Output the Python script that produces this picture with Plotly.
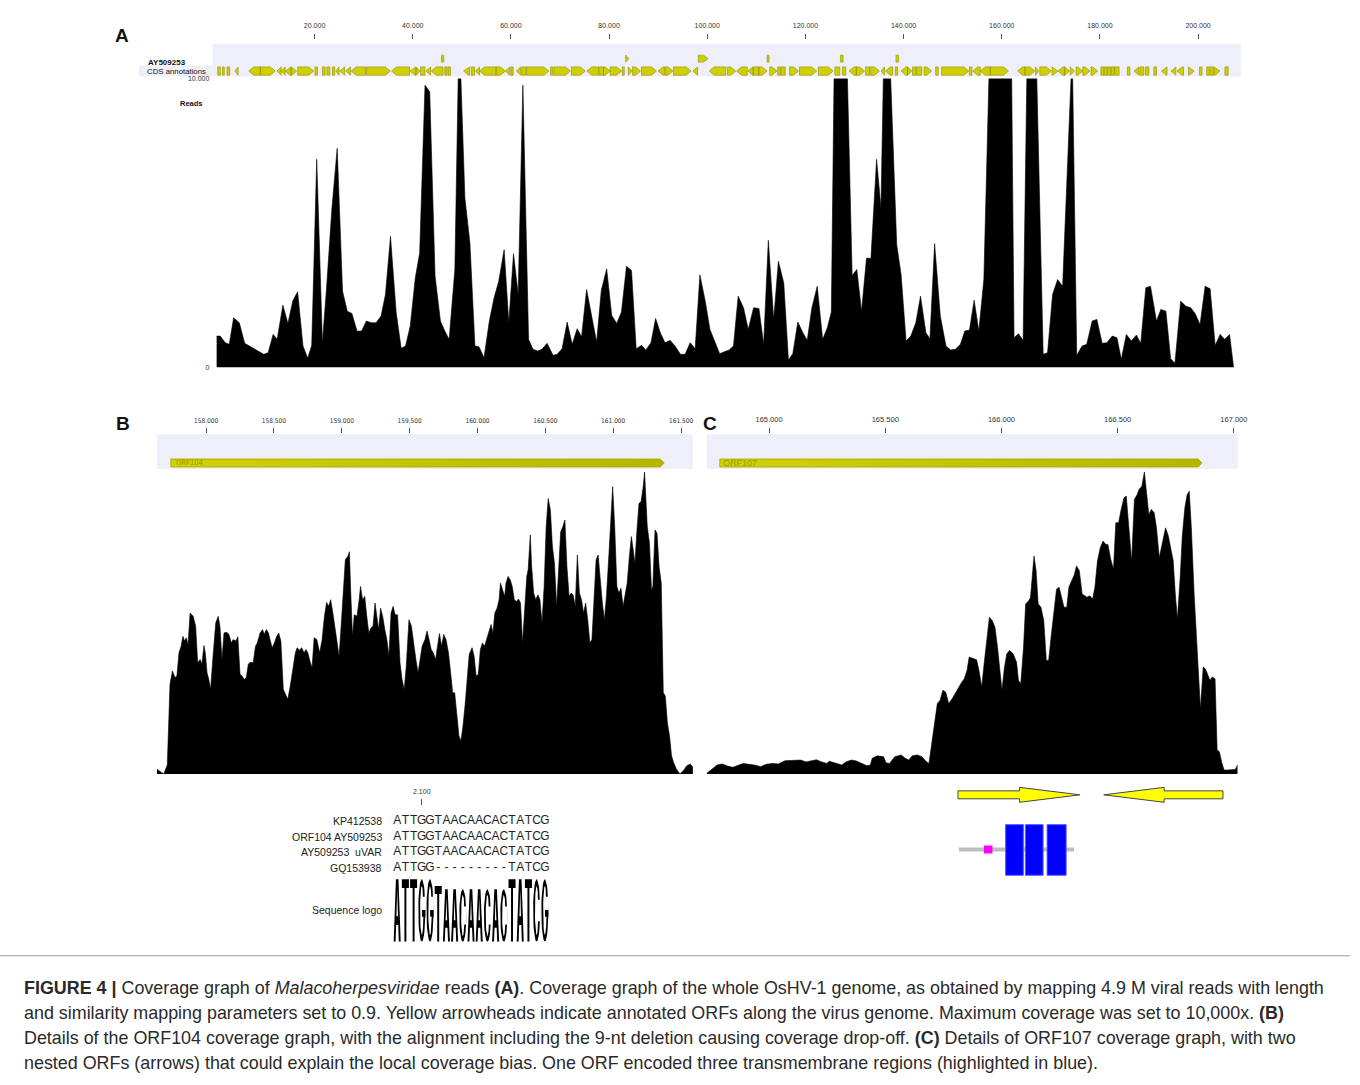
import numpy as np
import plotly.graph_objects as go

OFF = 0
W, H = 1360, 1077
FONT = "Arial, Liberation Sans, sans-serif"
NARROW = "Liberation Sans Narrow, Arial Narrow, DejaVu Sans Condensed, sans-serif"

# ---------------- Panel A: whole-genome coverage (kb, reads) ----------------
genome_kb = [
    0, 0.77, 1.80, 2.62, 3.51, 4.67, 5.76, 6.92, 8.29, 9.65,
    10.54, 11.56, 12.38, 13.54, 14.57, 15.59, 16.55, 17.64, 18.60, 19.42,
    20.44, 21.60, 22.42, 23.51, 24.61, 25.70, 26.66, 27.61, 28.64, 29.59,
    30.55, 31.57, 32.53, 33.55, 34.44, 35.47, 36.63, 37.65, 38.54, 39.49,
    40.52, 41.41, 42.50, 43.46, 44.55, 45.64, 46.53, 47.42, 48.58, 49.26,
    49.81, 50.63, 51.65, 52.67, 53.49, 54.52, 55.61, 56.57, 57.52, 58.62,
    59.57, 60.53, 61.48, 62.44, 63.60, 64.49, 65.44, 66.33, 67.36, 68.59,
    69.41, 70.43, 71.46, 72.48, 73.50, 74.39, 75.42, 77.46, 78.42, 79.51,
    80.54, 81.56, 82.52, 83.54, 84.57, 85.52, 86.62, 87.50, 88.53, 89.48,
    90.44, 91.39, 92.42, 93.44, 94.54, 95.49, 96.52, 97.54, 98.50, 99.59,
    100.55, 101.50, 102.53, 103.89,
    104.45, 105.34, 106.30, 107.39, 108.35, 109.44, 110.53, 111.49, 112.44,
    113.54, 114.49, 115.59, 116.54, 117.43, 118.45, 119.48, 120.37, 121.32, 122.41,
    123.51, 124.46, 125.28, 125.83, 128.56, 129.52, 130.47, 131.43, 132.45, 133.34,
    134.50, 135.39, 135.87, 137.37, 138.60, 139.49, 140.51, 141.47, 142.49, 143.45,
    144.54, 145.36, 146.32, 147.48, 148.64, 149.59, 150.55, 151.58, 152.46, 153.42,
    154.37, 155.33, 156.35, 157.38, 162.02, 162.50, 163.39, 164.35, 165.10, 167.14,
    168.44, 169.33, 170.35, 171.38, 172.40, 174.11, 174.45, 175.27, 176.36, 177.32,
    178.41, 179.37, 180.46, 181.42, 182.51, 183.47, 184.35, 185.38, 186.40, 187.43,
    188.32, 189.34, 190.30, 191.52, 192.41, 193.44, 194.40, 195.28, 196.44, 197.53,
    198.49, 199.38, 200.40, 201.43, 202.45, 203.47, 204.50, 205.39, 206.41, 207.23,
]
genome_reads = [
    1090, 1090, 862, 805, 1724, 1552, 839, 724, 575, 460,
    517, 1149, 977, 2161, 1529, 2322, 2621, 747, 322, 770,
    7207, 862, 2701, 5460, 7586, 2644, 1954, 1874, 1264, 1264,
    1609, 1552, 1552, 1782, 2529, 4540, 1897, 667, 747, 1437,
    3103, 3965, 9770, 9540, 3161, 1609, 1264, 977, 3391, 10000,
    10000, 5862, 4310, 747, 724, 345, 1609, 2414, 2988, 4080,
    1552, 3942, 2529, 9770, 977, 632, 575, 632, 839, 425,
    460, 655, 1575, 805, 1345, 1069, 2701, 885, 2678, 3414,
    1805, 1529, 1920, 3506, 3356, 655, 770, 609, 862, 1701,
    1207, 862, 943, 747, 460, 460, 862, 655, 3207, 2299,
    1322, 885, 483, 575,
    609, 747, 2471, 2069, 1322, 2069, 2046, 805, 4402,
    1667, 3678, 2931, 264, 483, 1575, 1207, 943, 2069, 2816,
    977, 1379, 1920, 10000, 10000, 3184, 3391, 1954, 3793, 3770,
    7207, 5517, 10000, 10000, 4253, 3218, 920, 1092, 1552, 2471,
    1207, 1000, 4287, 1782, 747, 609, 632, 805, 1264, 1299,
    2333, 1264, 3046, 10000, 10000, 1034, 1172, 943, 10000, 10000,
    460, 517, 2529, 3046, 2816, 10000, 10000, 425, 747, 805,
    1609, 1667, 839, 862, 1092, 1034, 287, 1149, 920, 1126,
    839, 2759, 2816, 1609, 2011, 1954, 310, 149, 2299, 2126,
    2069, 1874, 1494, 2816, 2724, 770, 1149, 977, 1149, 0,
]
genome_ticks = [20000, 40000, 60000, 80000, 100000, 120000, 140000, 160000, 180000, 200000]
reads_ticks = [0, 10000]

# CDS annotations (kb); '>' forward, '<' reverse, 'b' short box
cds_start = [
    0.27, 1.21, 2.15, 3.77, 6.60, 8.95, 12.32, 13.20, 14.00, 15.22,
    16.56, 20.07, 21.61, 22.49, 23.63, 24.31, 25.12, 26.33, 27.47, 30.57,
    35.69, 39.46, 40.67, 41.61, 42.69, 43.77, 46.53, 47.20, 50.37, 51.92,
    52.79, 53.60, 56.97,
    58.86, 60.00, 61.14, 62.22, 63.17, 68.08, 68.75, 72.32, 75.49, 77.98,
    78.86, 80.20, 82.69, 83.91, 84.78, 86.60, 89.97, 91.45, 93.13, 97.04,
    100.40, 104.11, 105.99, 108.28, 109.36, 110.50, 112.73, 114.34, 115.02, 116.77,
    118.79, 122.63, 125.99, 127.54, 128.89, 130.37, 132.26, 133.20, 135.42, 136.30,
    138.32, 139.46, 140.81, 141.82, 142.63, 144.18, 146.53, 147.75, 153.40, 154.08,
    155.62, 157.65, 163.24, 164.72, 166.87, 167.75, 170.24, 171.45, 172.80, 173.94,
    175.15, 176.50, 178.18, 180.20, 180.90, 181.60, 182.30, 183.00, 185.59, 186.94,
    188.15, 189.30, 190.98, 192.53, 194.48, 195.69, 198.05, 200.27, 201.75, 202.43,
    203.23, 205.46,
]
cds_end = [
    0.81, 1.61, 2.69, 4.44, 8.95, 11.98, 13.20, 14.00, 15.22, 16.36,
    19.80, 20.60, 22.15, 23.10, 24.11, 24.98, 26.13, 27.34, 30.37, 35.42,
    39.33, 40.67, 41.48, 42.49, 43.63, 46.19, 47.00, 47.68, 51.58, 52.59,
    53.60, 56.97, 58.86,
    59.80, 60.47, 62.02, 63.03, 67.74, 68.55, 72.12, 75.15, 77.85, 78.86,
    80.20, 82.56, 83.10, 84.71, 86.40, 89.63, 91.31, 93.00, 96.70, 98.05,
    103.77, 105.79, 108.15, 109.36, 110.50, 112.19, 114.21, 114.88, 115.89, 118.59,
    122.29, 125.66, 127.00, 128.22, 130.37, 132.05, 133.06, 135.09, 136.10, 137.78,
    138.79, 140.81, 141.69, 142.49, 143.71, 145.73, 147.07, 153.27, 153.94, 155.62,
    157.65, 161.35, 164.72, 166.74, 167.54, 170.10, 171.45, 172.80, 173.81, 174.82,
    176.50, 177.98, 179.53, 180.80, 181.50, 182.20, 182.90, 183.90, 186.13, 187.95,
    188.96, 189.97, 191.52, 193.67, 195.49, 197.04, 199.19, 200.81, 202.29, 203.10,
    204.45, 206.13,
]
cds_dir = [
    "b", "b", "b", "<", "<", ">", "<", "<", "<", ">",
    ">", "b", "b", "b", "b", "<", "<", "<", "<", ">",
    "<", "<", ">", "b", "<", "<", "b", "b", "<", "b",
    "<", "<", ">",
    "<", "b", "<", "b", ">", "b", ">", ">", "<", "b",
    ">", ">", "b", ">", ">", ">", "<", ">", ">", "<",
    "<", ">", "<", "<", "b", ">", ">", "b", "b", ">",
    ">", ">", "b", "b", "<", ">", "b", ">", "<", "<",
    "b", "<", ">", "b", "b", ">", "b", ">", "b", "<",
    "<", ">", "<", ">", ">", ">", ">", "<", ">", ">",
    ">", ">", ">", "b", "b", "b", "b", "b", "b", "<",
    "b", "b", "b", "<", "<", "<", ">", "b", "b", "b",
    ">", "b",
]
cds_upper_start = [45.86, 83.37, 98.18, 112.19, 127.14, 138.45]
cds_upper_end = [46.33, 84.04, 100.20, 112.59, 127.68, 138.99]
cds_upper_dir = ["b", ">", ">", "b", "b", "b"]

# ---------------- Panel B: ORF104 coverage (bp, % of local max) ----------------
orf104_pos = [
    157637, 157688, 157714, 157734, 157752, 157770, 157785, 157800, 157816, 157829,
    157841, 157854, 157867, 157882, 157905, 157923, 157938, 157956, 157969, 157984,
    157994, 158007, 158020, 158033, 158051, 158071, 158089, 158102, 158117, 158132,
    158153, 158168, 158186, 158199, 158219, 158234, 158250, 158265, 158280, 158296,
    158311, 158326, 158347, 158364, 158377, 158398, 158416, 158428, 158444, 158459,
    158474, 158487, 158505, 158520, 158535, 158551, 158569, 158587, 158602, 158620,
    158638, 158658, 158671, 158689, 158704, 158722, 158735, 158750, 158765, 158781,
    158796, 158816, 158837, 158855, 158872, 158888, 158903, 158918, 158934, 158949,
    158964, 158980, 158995, 159010, 159026, 159046, 159056, 159066, 159079, 159092,
    159112, 159128, 159138, 159153, 159169, 159184, 159199, 159215, 159230, 159245,
    159258, 159271, 159286, 159301, 159317, 159332, 159347, 159363, 159378, 159393,
    159411, 159429, 159444, 159460, 159475, 159495, 159513, 159531, 159546, 159562,
    159577, 159592, 159613, 159628, 159643, 159659, 159674, 159692, 159705, 159720,
    159735, 159751, 159768, 159786, 159802, 159817, 159832, 159848, 159863, 159878,
    159893, 159909, 159924, 159939, 159960, 159975, 159990, 160006, 160021, 160036,
    160052, 160067, 160082, 160100, 160113, 160128, 160144, 160159, 160169, 160184,
    160200, 160210, 160225, 160241, 160256, 160271, 160287, 160302, 160317, 160332,
    160348, 160363, 160373, 160389, 160399, 160414, 160429, 160445, 160460, 160475,
    160491, 160506, 160521, 160537, 160552, 160567, 160583, 160598, 160613, 160629,
    160644, 160659, 160675, 160690, 160705, 160720, 160736, 160751, 160766, 160782,
    160797, 160812, 160828, 160843, 160858, 160874, 160889, 160904, 160920, 160935,
    160950, 160966, 160981, 160996, 161011, 161027, 161042, 161057, 161073, 161088,
    161103, 161119, 161134, 161144, 161160, 161175, 161190, 161205, 161221, 161231,
    161241, 161251, 161267, 161282, 161292, 161308, 161323, 161338, 161354, 161369,
    161384, 161399, 161415, 161430, 161445, 161466, 161491, 161517, 161542, 161568,
    161588,
]
orf104_cov = [
    1.6, 0, 3, 29.7, 34.1, 31.9, 32.4, 40.1, 42.3, 45.6,
    44.0, 45.1, 42.9, 53.3, 52.2, 48.9, 36.8, 37.9, 36.3, 42.5,
    40.1, 33.5, 31.3, 28.0, 39.0, 50.0, 52.2, 48.9, 37.9, 46.7,
    46.9, 46.2, 43.4, 44.5, 44.0, 45.4, 33.0, 32.4, 31.3, 31.9,
    36.3, 37.0, 36.8, 42.3, 43.4, 46.7, 47.8, 46.2, 47.8, 46.7,
    44.0, 41.8, 43.6, 45.6, 46.7, 44.0, 28.0, 26.4, 24.7, 29.1,
    34.1, 40.1, 41.8, 41.0, 41.8, 40.1, 41.2, 40.1, 37.4, 35.2,
    45.1, 44.5, 40.1, 44.5, 52.2, 56.8, 55.5, 57.7, 53.3, 48.9,
    43.4, 39.0, 48.9, 59.9, 70.9, 72.2, 73.6, 59.9, 45.6, 52.7,
    52.2, 57.7, 62.1, 57.7, 58.8, 52.2, 46.7, 48.4, 48.9, 56.6,
    52.2, 47.8, 54.9, 52.2, 47.8, 44.5, 39.0, 53.3, 55.5, 52.7,
    52.7, 36.8, 31.3, 28.0, 35.7, 51.1, 48.9, 41.8, 37.9, 33.5,
    37.9, 42.3, 44.5, 47.3, 44.5, 41.2, 40.1, 37.9, 42.3, 46.5,
    42.3, 46.2, 44.5, 40.1, 33.5, 26.9, 26.9, 19.2, 12.6, 11.0,
    15.9, 23.1, 31.3, 39.6, 41.8, 39.0, 32.4, 33.0, 41.2, 43.4,
    42.3, 44.5, 46.7, 49.5, 46.7, 53.3, 54.9, 57.7, 63.2, 61.0,
    58.8, 63.2, 65.4, 64.3, 62.1, 57.7, 57.1, 57.9, 56.6, 43.4,
    55.5, 65.4, 67.6, 79.1, 68.7, 59.9, 57.7, 59.3, 57.7, 50.0,
    62.1, 81.9, 91.2, 87.4, 75.3, 69.8, 55.5, 68.7, 80.2, 81.9,
    84.1, 68.7, 58.8, 59.9, 59.3, 55.5, 72.5, 59.9, 57.7, 53.3,
    56.6, 51.1, 43.4, 44.5, 57.7, 70.9, 72.5, 63.2, 56.6, 51.1,
    58.8, 70.9, 81.9, 95.1, 81.9, 62.1, 59.9, 61.5, 55.5, 59.9,
    63.2, 72.0, 78.6, 75.3, 69.8, 80.8, 89.6, 90.1, 95.1, 100,
    90.7, 81.9, 76.4, 61.0, 62.1, 80.8, 79.7, 68.7, 63.2, 26.9,
    25.8, 17.0, 12.6, 6.0, 3.8, 1.6, 0, 1.1, 2.7, 3.3,
    2.2,
]
orf104_ticks = [158000, 158500, 159000, 159500, 160000, 160500, 161000, 161500]
orf104_span = [157740, 161376]

# ---------------- Panel C: ORF107 coverage (bp, % of local max) ----------------
orf107_pos = [
    164732, 164754, 164777, 164799, 164822, 164844, 164867, 164889, 164912, 164942,
    164964, 164987, 165017, 165039, 165069, 165099, 165136, 165159, 165181, 165204,
    165226, 165249, 165259, 165286, 165313, 165331, 165354, 165376, 165399, 165421,
    165436, 165444, 165466, 165493, 165503, 165518, 165541, 165568, 165586, 165601,
    165616, 165638, 165658, 165676, 165688, 165698, 165709, 165724, 165736, 165748,
    165760, 165773, 165788, 165803, 165818, 165829, 165840, 165852, 165861, 165873,
    165893, 165903, 165915, 165927, 165939, 165948, 165960, 165972, 165983, 165993,
    166002, 166013, 166023, 166035, 166050, 166065, 166073, 166083, 166095, 166104,
    166118, 166125, 166134, 166140, 166149, 166158, 166170, 166182, 166193, 166203,
    166215, 166227, 166237, 166248, 166260, 166269, 166281, 166290, 166302, 166312,
    166323, 166335, 166347, 166357, 166368, 166380, 166392, 166402, 166413, 166425,
    166437, 166449, 166458, 166470, 166482, 166492, 166504, 166515, 166527, 166537,
    166548, 166560, 166572, 166584, 166592, 166604, 166615, 166624, 166634, 166645,
    166657, 166667, 166679, 166694, 166706, 166718, 166727, 166739, 166748, 166757,
    166769, 166778, 166789, 166799, 166808, 166817, 166829, 166844, 166856, 166868,
    166877, 166886, 166897, 166907, 166919, 166928, 166937, 166949, 166958, 166971,
    166994, 167006, 167016,
]
orf107_cov = [
    0.2, 1.5, 3.0, 3.3, 2.6, 2.2, 3.0, 3.5, 3.2, 2.9,
    2.4, 3.2, 3.5, 3.3, 4.4, 4.6, 4.6, 4.0, 4.3, 4.7,
    4.0, 3.5, 4.2, 3.6, 3.0, 4.0, 4.6, 4.3, 3.5, 2.7,
    3.0, 5.2, 6.0, 5.7, 3.7, 3.5, 5.7, 6.3, 5.2, 4.6,
    6.0, 6.3, 5.7, 4.1, 3.5, 9.0, 15.6, 23.3, 24.4, 27.7,
    27.1, 23.3, 24.9, 27.1, 28.8, 30.4, 31.5, 34.3, 38.7, 38.4,
    37.8, 34.3, 28.8, 37.6, 46.4, 51.9, 50.8, 48.6, 42.0, 34.3,
    27.7, 35.4, 39.8, 40.9, 39.8, 37.0, 31.0, 29.9, 42.0, 56.3,
    57.4, 58.5, 67.3, 72.2, 67.3, 56.3, 55.2, 50.8, 37.6, 37.6,
    46.4, 54.1, 61.2, 61.8, 57.4, 55.2, 55.2, 61.8, 64.0, 65.6,
    68.9, 67.3, 59.6, 59.0, 58.5, 59.0, 57.9, 61.8, 70.5, 74.9,
    77.1, 76.0, 76.0, 71.1, 67.8, 83.2, 83.2, 87.6, 91.4, 92.0,
    81.5, 70.5, 90.9, 92.5, 94.2, 95.3, 100, 92.5, 85.9, 87.6,
    86.5, 81.5, 71.6, 77.1, 81.5, 78.8, 74.9, 70.5, 59.6, 51.3,
    65.1, 78.8, 88.1, 92.5, 93.6, 81.5, 59.6, 37.6, 21.6, 35.4,
    34.8, 33.2, 31.0, 32.1, 31.5, 7.9, 7.4, 3.5, 1.3, 1.3,
    1.3, 1.5, 3.0,
]
orf107_ticks = [165000, 165500, 166000, 166500, 167000]
orf107_span = [164788, 166863]
nested_orf_from = [165813, 166953]
nested_orf_to = [166338, 166440]

# protein (aa) with signal region and three transmembrane helices
protein_len = 175
signal_region = [38, 51]
tm_start = [71, 101, 134]
tm_end = [98, 128, 163]

# ---------------- Alignment around position 2.100 ----------------
aln_first_pos = 2097
aln_tick = [2100]
aln_names = ["KP412538", "ORF104 AY509253", "AY509253  uVAR", "GQ153938"]
aln_seqs = ["ATTGGTAACAACACTATCG", "ATTGGTAACAACACTATCG",
            "ATTGGTAACAACACTATCG", "ATTGG---------TATCG"]
logo_letters = "ATTGGTAACAACACTATCG"
logo_bits = [2.0, 2.0, 2.0, 2.0, 2.0, 1.78, 1.68, 1.68, 1.68, 1.68,
             1.68, 1.68, 1.68, 1.68, 2.0, 2.0, 2.0, 2.0, 2.0]

caption_lines = [
    "<b>FIGURE 4 |</b> Coverage graph of <i>Malacoherpesviridae</i> reads <b>(A)</b>. Coverage graph of the whole OsHV-1 genome, as obtained by mapping 4.9 M viral reads with length",
    "and similarity mapping parameters set to 0.9. Yellow arrowheads indicate annotated ORFs along the virus genome. Maximum coverage was set to 10,000x. <b>(B)</b>",
    "Details of the ORF104 coverage graph, with the alignment including the 9-nt deletion causing coverage drop-off. <b>(C)</b> Details of ORF107 coverage graph, with two",
    "nested ORFs (arrows) that could explain the local coverage bias. One ORF encoded three transmembrane regions (highlighted in blue).",
]


# ---------------- helpers (page pixel -> paper fraction) ----------------
def fx(x):
    return (x - OFF) / W


def fy(y):
    return 1 - (y - OFF) / H


def dom_x(a, b):
    return [fx(a), fx(b)]


def dom_y(top, bottom):
    return [fy(bottom), fy(top)]


def feature_polys(starts, ends, dirs, yc, hh, head):
    xs, ys = [], []
    for s, e, d in zip(starts, ends, dirs):
        h = min(head, e - s)
        if d == ">":
            px = [s, e - h, e, e - h, s, s]
            py = [yc - hh, yc - hh, yc, yc + hh, yc + hh, yc - hh]
        elif d == "<":
            px = [e, s + h, s, s + h, e, e]
            py = [yc - hh, yc - hh, yc, yc + hh, yc + hh, yc - hh]
        else:
            px = [s, e, e, s, s]
            py = [yc - hh, yc - hh, yc + hh, yc + hh, yc - hh]
        xs += px + [None]
        ys += py + [None]
    return xs, ys


def arrow_poly(a, b, yc, shaft, headh, headlen):
    sgn = 1 if b > a else -1
    hb = b - sgn * headlen
    px = [a, hb, hb, b, hb, hb, a, a]
    py = [yc - shaft, yc - shaft, yc - headh, yc, yc + headh, yc + shaft, yc + shaft, yc - shaft]
    return px, py


def ellipse(cx, cy, rx, ry, n=36):
    t = np.linspace(0, 2 * np.pi, n)
    return list(zip(cx + rx * np.cos(t), cy + ry * np.sin(t)))


def rect(u0, v0, u1, v1):
    return [(u0, v0), (u1, v0), (u1, v1), (u0, v1), (u0, v0)]


GLYPHS = {
    "T": ([[(0, 1), (1, 1), (1, 0.86), (0.64, 0.86), (0.64, 0), (0.36, 0), (0.36, 0.86), (0, 0.86), (0, 1)]], [], []),
    "A": ([[(0, 0), (0.32, 1), (0.68, 1), (1, 0), (0.73, 0), (0.65, 0.27), (0.35, 0.27), (0.27, 0), (0, 0)]],
          [[(0.39, 0.41), (0.5, 0.84), (0.61, 0.41), (0.39, 0.41)]], []),
    "C": ([ellipse(0.5, 0.5, 0.5, 0.5)], [ellipse(0.5, 0.5, 0.24, 0.39), rect(0.55, 0.33, 1.03, 0.67)], []),
    "G": ([ellipse(0.5, 0.5, 0.5, 0.5)], [ellipse(0.5, 0.5, 0.24, 0.39), rect(0.55, 0.50, 1.03, 0.72)],
          [rect(0.52, 0.40, 1.0, 0.51)]),
}

traces = []

# ---- Panel A coverage
traces.append(go.Scatter(x=np.array(genome_kb) * 1000, y=genome_reads, mode="lines",
                         fill="tozeroy", fillcolor="black", line=dict(color="black", width=0.6),
                         xaxis="x", yaxis="y", hoverinfo="skip"))
# ---- Panel A CDS track
lx, ly = feature_polys(np.array(cds_start) * 1000, np.array(cds_end) * 1000, cds_dir, 5.5, 4.2, 1000)
ux, uy = feature_polys(np.array(cds_upper_start) * 1000, np.array(cds_upper_end) * 1000, cds_upper_dir, 18, 3.5, 1000)
for gx, gy in ((lx, ly), (ux, uy)):
    traces.append(go.Scatter(x=gx, y=gy, mode="lines", fill="toself", fillcolor="#cfcf00",
                             line=dict(color="#8e8e00", width=0.6), xaxis="x2", yaxis="y2",
                             hoverinfo="skip"))

# ---- Panel B / C coverage
traces.append(go.Scatter(x=orf104_pos, y=orf104_cov, mode="lines", fill="tozeroy", fillcolor="black",
                         line=dict(color="black", width=0.6), xaxis="x3", yaxis="y3", hoverinfo="skip"))
traces.append(go.Scatter(x=orf107_pos, y=orf107_cov, mode="lines", fill="tozeroy", fillcolor="black",
                         line=dict(color="black", width=0.6), xaxis="x5", yaxis="y5", hoverinfo="skip"))

# ---- ORF bars
for span, xa, ya, head in ((orf104_span, "x4", "y4", 30), (orf107_span, "x6", "y6", 17)):
    bx, by = feature_polys([span[0]], [span[1]], [">"], 6, 4, head)
    traces.append(go.Scatter(x=bx, y=by, mode="lines", fill="toself",
                             fillgradient=dict(type="horizontal",
                                               colorscale=[[0, "#d2d200"], [1, "#b6b600"]]),
                             line=dict(color="#a3a300", width=0.8), xaxis=xa, yaxis=ya,
                             hoverinfo="skip"))

# ---- nested ORF arrows (panel C)
ax_, ay_ = [], []
for a, b in zip(nested_orf_from, nested_orf_to):
    px, py = arrow_poly(a, b, 16, 4, 7.5, 260)
    ax_ += px + [None]
    ay_ += py + [None]
traces.append(go.Scatter(x=ax_, y=ay_, mode="lines", fill="toself", fillcolor="#ffff00",
                         line=dict(color="#444444", width=1), xaxis="x5", yaxis="y9",
                         hoverinfo="skip"))

# ---- alignment text
tx, ty, tt = [], [], []
for r, seq in enumerate(aln_seqs, start=1):
    for i, ch in enumerate(seq):
        tx.append(aln_first_pos + i)
        ty.append(r)
        tt.append(ch)
traces.append(go.Scatter(x=tx, y=ty, text=tt, mode="text",
                         textfont=dict(family=FONT, size=12, color="#222222"),
                         xaxis="x7", yaxis="y7", hoverinfo="skip"))

# ---- sequence logo glyphs
layers = [([], []), ([], []), ([], [])]
gw = 0.86
for i, (ch, bits) in enumerate(zip(logo_letters, logo_bits)):
    x0 = aln_first_pos + i - gw / 2
    for li, polys in enumerate(GLYPHS[ch]):
        for poly in polys:
            for (u, v) in poly:
                layers[li][0].append(x0 + u * gw)
                layers[li][1].append(v * bits)
            layers[li][0].append(None)
            layers[li][1].append(None)
for li, col in enumerate(["black", "white", "black"]):
    if layers[li][0]:
        traces.append(go.Scatter(x=layers[li][0], y=layers[li][1], mode="lines", fill="toself",
                                 fillcolor=col, line=dict(color=col, width=0),
                                 xaxis="x7", yaxis="y8", hoverinfo="skip"))

fig = go.Figure(traces)

hidden = dict(visible=False, showgrid=False, zeroline=False, fixedrange=True)
tickfont_small = dict(family=FONT, size=7, color="#333333")


def top_axis(a, b, rng, ypos, vals, font, ticklen=5, standoff=3):
    return dict(domain=dom_x(a, b), range=rng, anchor="free", position=fy(ypos), side="top",
                showgrid=False, zeroline=False, showline=False, ticks="outside", ticklen=ticklen,
                tickwidth=1, tickcolor="#555555", tickvals=vals, tickformat=",d", tickfont=font,
                ticklabelstandoff=standoff, fixedrange=True)


fig.update_layout(
    width=W, height=H, margin=dict(l=0, r=0, t=0, b=0),
    paper_bgcolor="white", plot_bgcolor="white", showlegend=False, separators=",.",
    xaxis=dict(domain=dom_x(218, 1250), range=[0, 208700], anchor="y", **hidden),
    yaxis=dict(domain=dom_y(75, 366), range=[0, 10000], anchor="x", showgrid=False,
               zeroline=False, showline=False, ticks="", tickvals=reads_ticks, tickformat=",d",
               tickfont=tickfont_small, ticklabelstandoff=6, fixedrange=True),
    xaxis2=top_axis(214, 1250, [-809, 208700], 35.5, genome_ticks, tickfont_small),
    yaxis2=dict(domain=dom_y(40, 73), range=[0, 33], anchor="x2", **hidden),
    xaxis3=dict(domain=dom_x(158, 698), range=[157637, 161587], anchor="y3", **hidden),
    yaxis3=dict(domain=dom_y(470, 775), range=[0, 100.33], anchor="x3", **hidden),
    xaxis4=top_axis(158, 698, [157637, 161587], 432, orf104_ticks,
                    dict(family=NARROW, size=6.5, color="#333333")),
    yaxis4=dict(domain=dom_y(433, 468), range=[0, 35], anchor="x4", **hidden),
    xaxis5=dict(domain=dom_x(712, 1247), range=[164732, 167017], anchor="y5", **hidden),
    yaxis5=dict(domain=dom_y(470, 775), range=[0, 100.33], anchor="x5", **hidden),
    xaxis6=top_axis(712, 1247, [164732, 167017], 432, orf107_ticks,
                    dict(family=FONT, size=7.5, color="#333333")),
    yaxis6=dict(domain=dom_y(433, 468), range=[0, 35], anchor="x6", **hidden),
    xaxis7=top_axis(396, 553, [2096.5, 2115.5], 806, aln_tick, tickfont_small, ticklen=6, standoff=2),
    yaxis7=dict(domain=dom_y(814, 878), range=[4.5, 0.5], anchor="x7", **hidden),
    yaxis8=dict(domain=dom_y(879, 944), range=[0, 2.06], anchor="x7", **hidden),
    yaxis9=dict(domain=dom_y(782, 812), range=[0, 30], anchor="x5", **hidden),
    xaxis8=dict(domain=dom_x(966, 1082), range=[0, protein_len], anchor="y10", **hidden),
    yaxis10=dict(domain=dom_y(825, 878), range=[0, 53], anchor="x8", **hidden),
)

LAV = "#efeffb"
shapes = []
for xr, yr in (("x2 domain", "y2 domain"), ("x4 domain", "y4 domain"), ("x6 domain", "y6 domain")):
    shapes.append(dict(type="rect", xref=xr, yref=yr, x0=0, x1=1, y0=0, y1=1,
                       fillcolor=LAV, line=dict(width=0), layer="below"))
shapes.append(dict(type="rect", xref="paper", yref="paper", x0=fx(140), x1=fx(214),
                   y0=fy(73), y1=fy(62), fillcolor=LAV, line=dict(width=0), layer="below"))
# protein diagram
shapes.append(dict(type="rect", xref="x8", yref="y10", x0=0, x1=protein_len, y0=25, y1=29,
                   fillcolor="#bdbdbd", line=dict(width=0)))
shapes.append(dict(type="rect", xref="x8", yref="y10", x0=signal_region[0], x1=signal_region[1],
                   y0=23, y1=31, fillcolor="#ff00ff", line=dict(width=0)))
for s, e in zip(tm_start, tm_end):
    shapes.append(dict(type="rect", xref="x8", yref="y10", x0=s, x1=e, y0=1, y1=52,
                       fillcolor="#0000ff", line=dict(color="#5a5aff", width=1)))
# caption separator
shapes.append(dict(type="line", xref="paper", yref="paper", x0=0, x1=1,
                   y0=fy(958), y1=fy(958), line=dict(color="#9a9a9a", width=1)))
fig.update_layout(shapes=shapes)

ann = []


def add_text(text, x, y, size, xanchor="center", bold=False, color="#111111", family=FONT):
    ann.append(dict(text=f"<b>{text}</b>" if bold else text, x=fx(x), y=fy(y),
                    xref="paper", yref="paper", xanchor=xanchor, yanchor="middle",
                    showarrow=False, font=dict(family=family, size=size, color=color)))


add_text("A", 123, 32, 19, bold=True)
add_text("B", 124, 422, 19, bold=True)
add_text("C", 715, 422, 19, bold=True)
add_text("AY509253", 147, 59, 8, xanchor="left", bold=True)
add_text("CDS annotations", 146, 67.5, 7.8, xanchor="left")
add_text("Reads", 193, 100, 7.5, bold=True)
add_text("ORF104", 175, 462, 7.5, xanchor="left", color="#9c9c00", family=NARROW)
add_text("ORF107", 726, 462, 9, xanchor="left", color="#9c9c00")
add_text("Sequence logo", 387, 912, 10.5, xanchor="right", color="#222222")
for r, name in enumerate(aln_names):
    add_text(name, 387, 822 + 16 * r, 10.5, xanchor="right", color="#222222")
for k, line in enumerate(caption_lines):
    add_text(line, 22, 990 + k * 25.3, 17.9, xanchor="left", color="#2a2a2a")
fig.update_layout(annotations=ann)

# remove page margins so the figure sits at the window's top-left corner
page_fix = (
    "var s=document.createElement('style');"
    "s.textContent='html,body{margin:0!important;padding:0!important;overflow:hidden!important;"
    "line-height:0!important;font-size:0!important;}"
    ".plotly-graph-div,.plot-container,.svg-container{display:block!important;}';"
    "document.head.appendChild(s);"
)
fig.write_html("out.html", post_script=page_fix, config={"displayModeBar": False})
